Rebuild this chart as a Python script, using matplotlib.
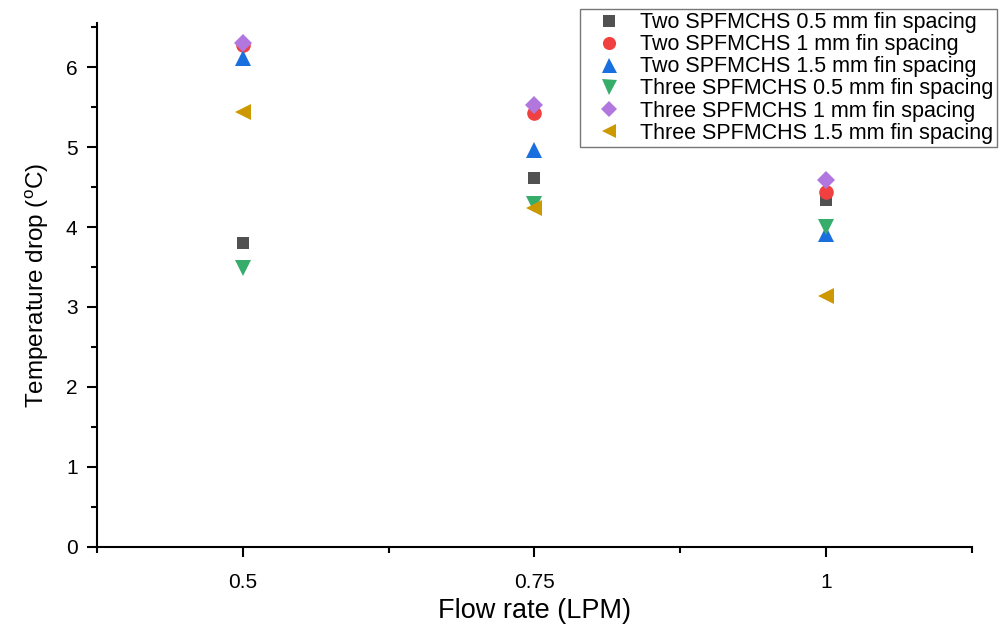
import numpy as np
import matplotlib.pyplot as plt
from matplotlib.ticker import MultipleLocator

plt.rcParams['font.family'] = ['Liberation Sans', 'DejaVu Sans']
plt.rcParams['mathtext.fontset'] = 'custom'
plt.rcParams['mathtext.rm'] = 'Liberation Sans'

# flow rate (LPM)
flow = [0.5, 0.75, 1.0]

# temperature drop (C) per configuration
two_05 = [3.80, 4.61, 4.34]
two_1 = [6.28, 5.43, 4.44]
two_15 = [6.11, 4.96, 3.91]
three_05 = [3.49, 4.29, 4.00]
three_1 = [6.30, 5.53, 4.59]
three_15 = [5.44, 4.24, 3.14]

labels = ['Two SPFMCHS 0.5 mm fin spacing',
          'Two SPFMCHS 1 mm fin spacing',
          'Two SPFMCHS 1.5 mm fin spacing',
          'Three SPFMCHS 0.5 mm fin spacing',
          'Three SPFMCHS 1 mm fin spacing',
          'Three SPFMCHS 1.5 mm fin spacing']
series = [two_05, two_1, two_15, three_05, three_1, three_15]
colors = ['#515151', '#F14040', '#1A6FDF', '#37AD6B', '#B177DE', '#CC9900']
markers = ['s', 'o', '^', 'v', 'D', '<']
sizes = [9, 10.5, 12, 12, 9.5, 11]

fig = plt.figure(figsize=(10.05, 6.25), dpi=100)
ax = fig.add_axes([0.0965, 0.125, 0.8705, 0.838])

for y, lab, c, m, ms in zip(series, labels, colors, markers, sizes):
    ax.plot(flow, y, linestyle='none', marker=m, color=c, markersize=ms,
            markeredgewidth=0, label=lab)

ax.set_xlim(0.375, 1.125)
ax.set_ylim(0, 6.55)
ax.set_xticks([0.5, 0.75, 1.0])
ax.set_xticklabels(['0.5', '0.75', '1'])
ax.xaxis.set_minor_locator(MultipleLocator(0.125))
ax.set_yticks(range(7))
ax.yaxis.set_minor_locator(MultipleLocator(0.5))

for s in ['top', 'right']:
    ax.spines[s].set_visible(False)
for s in ['left', 'bottom']:
    ax.spines[s].set_linewidth(1.5)

ax.tick_params(which='major', direction='out', length=7, width=1.5, labelsize=15)
ax.tick_params(which='minor', direction='out', length=4, width=1.5)
ax.tick_params(axis='x', pad=12)
ax.tick_params(axis='y', pad=7)

ax.set_xlabel('Flow rate (LPM)', fontsize=19.5, labelpad=4)
ax.set_ylabel(r'Temperature drop ($^{\mathrm{o}}$C)', fontsize=17.5, labelpad=11)

leg = fig.legend(loc='upper right', bbox_to_anchor=(997 / 1005, 1 - 9 / 625),
                 borderaxespad=0, fontsize=15.5, frameon=True, fancybox=False,
                 edgecolor='#555555', handletextpad=0.25, labelspacing=0.05,
                 borderpad=0.15, handlelength=2.4, markerscale=0.9)
leg.get_frame().set_linewidth(1.0)

fig.savefig('out.png', dpi=100)
